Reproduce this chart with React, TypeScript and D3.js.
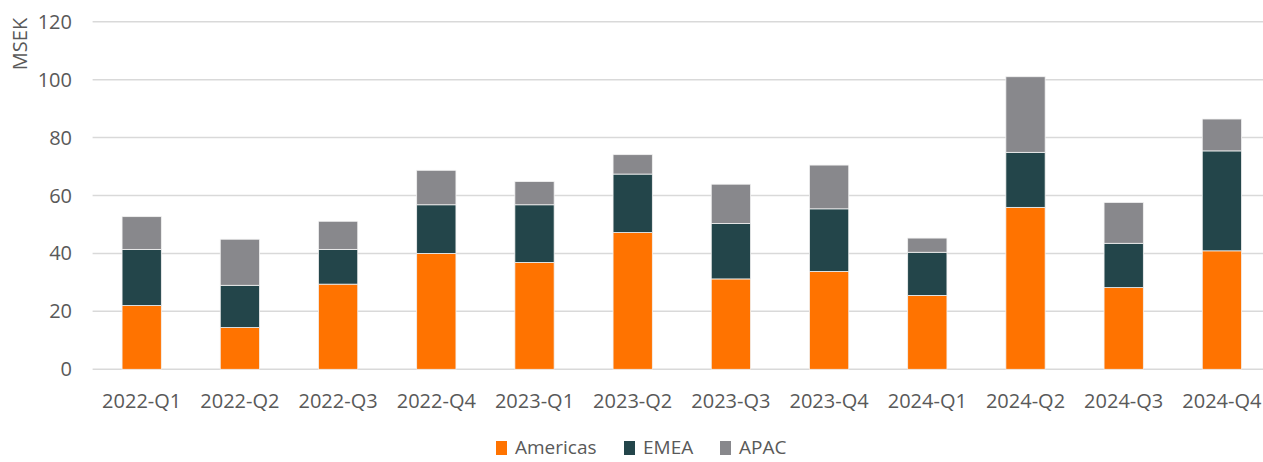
import React from "react";
import * as d3 from "d3";

const categories = ["2022-Q1", "2022-Q2", "2022-Q3", "2022-Q4", "2023-Q1", "2023-Q2", "2023-Q3", "2023-Q4", "2024-Q1", "2024-Q2", "2024-Q3", "2024-Q4"];
const americas = [22, 14.4, 29.4, 40, 36.9, 47.2, 31.2, 33.8, 25.5, 55.9, 28.2, 40.9];
const emea = [19.4, 14.6, 12, 16.8, 19.9, 20.2, 19.1, 21.6, 14.9, 19, 15.3, 34.5];
const apac = [11.3, 15.9, 9.7, 11.9, 8, 6.7, 13.6, 15.1, 4.9, 26.1, 14.1, 11];
const seriesNames = ["Americas", "EMEA", "APAC"];
const colors = ["#ff7300", "#23454a", "#88888c"];
const yTicks = [0, 20, 40, 60, 80, 100, 120];

const font = "'Open Sans', 'Segoe UI', sans-serif";

export default function App() {
  const width = 1263, height = 462;

  const rows = categories.map((c, i) => ({ cat: c, Americas: americas[i], EMEA: emea[i], APAC: apac[i] }));
  const stacked = d3.stack<any>().keys(seriesNames)(rows);

  // plot area runs a little past the right edge of the picture
  const x = d3.scaleBand().domain(categories).range([92.6, 1271]).paddingInner(0.6).paddingOuter(0.3);
  const y = d3.scaleLinear().domain([0, 120]).range([369.3, 21.7]);

  const legendX = [496, 624, 720];

  return (
    <div style={{ position: "absolute", left: 0, top: 0 }}>
      <svg width={width} height={height} style={{ display: "block", background: "#fff" }}>
        {yTicks.map(t => (
          <g key={t}>
            <line x1={92.6} x2={1263} y1={y(t)} y2={y(t)} stroke="#d9d9d9" strokeWidth={1.5} />
            <text x={72} y={y(t)} dy="0.35em" textAnchor="end" fontFamily={font} fontSize={20} fill="#595959">{t}</text>
          </g>
        ))}
        <text transform="translate(27,44) rotate(-90)" textAnchor="middle" fontFamily={font} fontSize={20} fill="#595959">MSEK</text>
        {stacked.map((s, si) => (
          <g key={s.key} fill={colors[si]}>
            {s.map((d, i) => (
              <rect key={i} x={x(categories[i])} width={x.bandwidth()} y={y(d[1])} height={y(d[0]) - y(d[1])}
                stroke="#f2f2f2" strokeWidth={0.8} />
            ))}
          </g>
        ))}
        {categories.map(c => (
          <text key={c} x={x(c)! + x.bandwidth() / 2} y={401} dy="0.35em" textAnchor="middle" fontFamily={font} fontSize={20} fill="#595959">{c}</text>
        ))}
        {seriesNames.map((n, i) => (
          <g key={n}>
            <rect x={legendX[i]} y={441} width={11} height={14} fill={colors[i]} />
            <text x={legendX[i] + 19} y={447} dy="0.35em" fontFamily={font} fontSize={19} fill="#595959">{n}</text>
          </g>
        ))}
      </svg>
    </div>
  );
}
